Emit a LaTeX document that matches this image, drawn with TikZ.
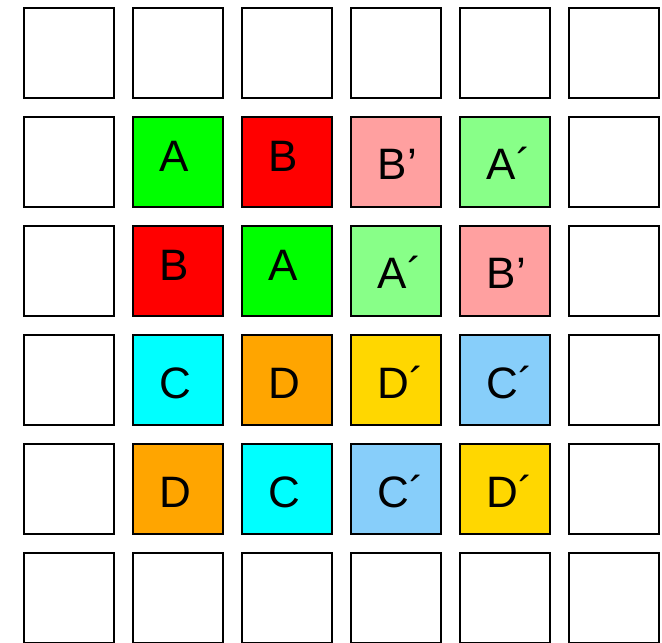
\documentclass[tikz,border=0pt]{standalone}
\usepackage{fontspec}
\setmainfont{Liberation Sans}
\usetikzlibrary{calc}
\definecolor{cA}{HTML}{00FF00}
\definecolor{cB}{HTML}{FF0000}
\definecolor{cAp}{HTML}{88FF88}
\definecolor{cBp}{HTML}{FFA0A0}
\definecolor{cC}{HTML}{00FFFF}
\definecolor{cD}{HTML}{FFA500}
\definecolor{cCp}{HTML}{87CEFA}
\definecolor{cDp}{HTML}{FFD700}
\begin{document}
\begin{tikzpicture}[x=1pt,y=-1pt,
  cell/.style={draw=black,line width=2pt,minimum width=90pt,minimum height=90pt,inner sep=0pt,outer sep=0pt},
  lbl/.style={anchor=base west,inner sep=0pt,outer sep=0pt,font=\fontsize{44}{44}\selectfont}]
\useasboundingbox (0,0) rectangle (662,643);
% outer ring of empty cells
\foreach \i in {0,...,5}{
  \foreach \j in {0,...,5}{
    \pgfmathtruncatemacro\inner{and(and(\i>0,\i<5),and(\j>0,\j<5))}
    \ifnum\inner=0
      \node[cell,fill=white] (b\i\j) at ({69.3+109*\i},{52.7+109.1*\j}) {};
    \fi
  }}
% inner coloured cells with labels
\foreach \i/\j/\c/\t/\b in {
  1/1/cA/A/55.5, 2/1/cB/B/55.5, 3/1/cBp/B’/64, 4/1/cAp/A´/64,
  1/2/cB/B/55.5, 2/2/cA/A/55.5, 3/2/cAp/A´/64, 4/2/cBp/B’/64,
  1/3/cC/C/64, 2/3/cD/D/64, 3/3/cDp/D´/64, 4/3/cCp/C´/64,
  1/4/cD/D/64, 2/4/cC/C/64, 3/4/cCp/C´/64, 4/4/cDp/D´/64}{
  \node[cell,fill=\c] (b\i\j) at ({69.3+109*\i},{52.7+109.1*\j}) {};
  \node[lbl] (t\i\j) at ($(b\i\j.north west)+(26.5,\b-1)$) {\t};
}
\end{tikzpicture}
\end{document}
